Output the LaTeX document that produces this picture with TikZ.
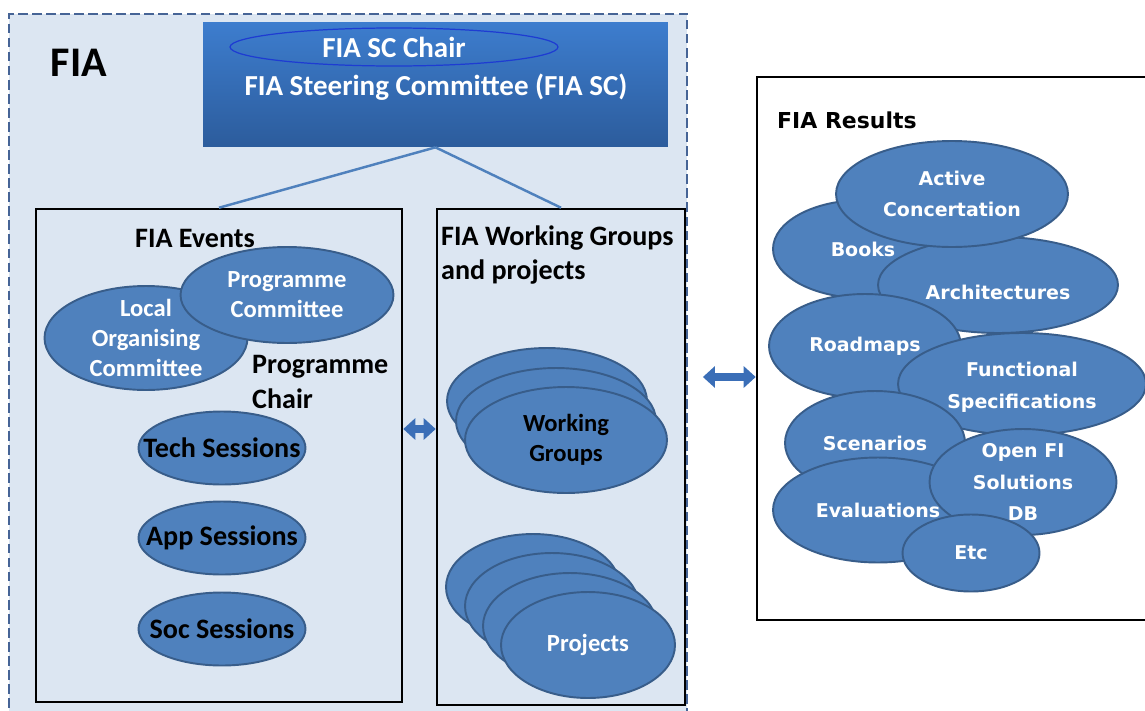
\documentclass[tikz,border=0pt]{standalone}
\usepackage{fontspec}
\setmainfont{Carlito}
\newfontfamily\resfont{DejaVu Sans}
\usetikzlibrary{shapes.geometric,arrows.meta}
\definecolor{fiabg}{RGB}{220,230,242}
\definecolor{fiadash}{RGB}{70,100,150}
\definecolor{bubblefill}{RGB}{79,129,189}
\definecolor{bubbleline}{RGB}{56,93,138}
\definecolor{sctop}{RGB}{61,125,206}
\definecolor{scbot}{RGB}{44,92,156}
\definecolor{chairline}{RGB}{30,60,210}
\definecolor{arrowblue}{RGB}{58,110,183}

\begin{document}
\begin{tikzpicture}[x=0.02cm, y=-0.02cm,
  bubble/.style={shape=ellipse, draw=bubbleline, fill=bubblefill, line width=1.1pt, inner sep=0pt},
  wtext/.style={text=white, font=\fontsize{14}{17}\selectfont\bfseries, align=center},
  btext/.style={text=black, font=\fontsize{14}{17}\selectfont\bfseries, align=center},
  stext/.style={text=black, font=\fontsize{16}{19}\selectfont\bfseries, align=center},
  sctext/.style={text=white, font=\fontsize{16.5}{19}\selectfont\bfseries, align=center},
  rtext/.style={text=white, font=\resfont\fontsize{10.8}{18}\selectfont\bfseries, align=center},
  rhead/.style={text=black, font=\resfont\fontsize{12.5}{15}\selectfont\bfseries},
  headtext/.style={text=black, font=\fontsize{16}{19.5}\selectfont\bfseries, align=left},
  panel/.style={shape=rectangle, draw=black, line width=1.5pt, inner sep=0pt},
  link/.style={draw=bubblefill, line width=1.4pt},
  fatarrow/.style={draw=arrowblue, line width=0.16cm, {Triangle[width=0.42cm,length=0.24cm]}-{Triangle[width=0.42cm,length=0.24cm]}}]
\useasboundingbox (0,0) rectangle (1145,710);

% FIA region
\node[shape=rectangle, draw=fiadash, fill=fiabg, dash pattern=on 5.5pt off 2.5pt, line width=1.1pt, minimum width=13.56cm, minimum height=14.02cm, inner sep=0pt] (fia) at (348,364.5) {};
\node[font=\fontsize{24}{28}\selectfont\bfseries] (fialabel) at (79,63) {FIA};

% steering committee
\node[shape=rectangle, top color=sctop, bottom color=scbot, draw=none, minimum width=9.3cm, minimum height=2.5cm, inner sep=0pt] (sc) at (435.5,84.5) {};
\node[shape=ellipse, draw=chairline, line width=0.7pt, minimum width=6.56cm, minimum height=0.76cm, inner sep=0pt, label={[sctext]center:FIA SC Chair}] (chair) at (394,47) {};
\node[sctext] (scname) at (436,87) {FIA Steering Committee (FIA SC)};

% panels
\node[panel, minimum width=7.32cm, minimum height=9.86cm] (events) at (219,455.5) {};
\node[panel, minimum width=4.96cm, minimum height=9.92cm] (wg) at (561,457) {};
\node[panel, fill=white, minimum width=7.86cm, minimum height=10.86cm] (results) at (953.5,348.5) {};
\draw[link] (sc.south) -- (events.north);
\draw[link] (sc.south) -- (wg.north);

% events
\node[headtext] (evtitle) at (195,238) {FIA Events};
\node[bubble, minimum width=4.06cm, minimum height=2.08cm, label={[wtext]center:Local\\Organising\\Committee}] (loc) at (146,338) {};
\node[bubble, minimum width=4.26cm, minimum height=1.92cm, label={[wtext]center:Programme\\Committee}] (pc) at (287,295) {};
\node[headtext, anchor=west] (pchair) at (246,382) {Programme\\Chair};
\node[bubble, minimum width=3.34cm, minimum height=1.46cm, label={[stext]center:Tech Sessions}] (tech) at (222,448) {};
\node[bubble, minimum width=3.34cm, minimum height=1.46cm, label={[stext]center:App Sessions}] (app) at (222,538) {};
\node[bubble, minimum width=3.34cm, minimum height=1.46cm, label={[stext]center:Soc Sessions}] (soc) at (222,629) {};
\draw[fatarrow] (events.east |- 0,429) -- (wg.west |- 0,429);

% working groups and projects
\node[headtext, anchor=west] (wgtitle) at (435,255) {FIA Working Groups\\and projects};
\node[bubble, minimum width=4cm, minimum height=2.12cm] (wg1) at (547,401) {};
\node[bubble, minimum width=4cm, minimum height=2.12cm] (wg2) at (556,421) {};
\node[bubble, minimum width=4.04cm, minimum height=2.12cm, label={[btext]center:Working\\Groups}] (wg3) at (566,440) {};
\node[bubble, minimum width=3.48cm, minimum height=2.12cm] (pr1) at (533,587) {};
\node[bubble, minimum width=3.48cm, minimum height=2.12cm] (pr2) at (552,606) {};
\node[bubble, minimum width=3.48cm, minimum height=2.12cm] (pr3) at (570,626) {};
\node[bubble, minimum width=3.48cm, minimum height=2.12cm, label={[wtext]center:Projects}] (pr4) at (588,645) {};
\draw[fatarrow, shorten <=0.3cm] (fia.east |- 0,377) -- (results.west |- 0,377);

% results
\node[rhead, anchor=west] (restitle) at (771,120) {FIA Results};
\node[bubble, minimum width=3.6cm, minimum height=1.96cm, label={[rtext]center:Books}] (books) at (863,249) {};
\node[bubble, minimum width=4.8cm, minimum height=1.92cm, label={[rtext, yshift=-4pt]center:Architectures}] (arch) at (998,285) {};
\node[bubble, minimum width=4.64cm, minimum height=2.12cm, label={[rtext]center:Active\\Concertation}] (active) at (952,194) {};
\node[bubble, minimum width=3.84cm, minimum height=2.08cm, label={[rtext]center:Roadmaps}] (roadmaps) at (865,346) {};
\node[bubble, minimum width=4.96cm, minimum height=2.04cm, label={[rtext, yshift=-2pt]center:Functional\\Specifications}] (func) at (1022,384) {};
\node[bubble, minimum width=3.6cm, minimum height=2.08cm, label={[rtext]center:Scenarios}] (scen) at (875,443) {};
\node[bubble, minimum width=4.2cm, minimum height=2.1cm] (eval) at (878,510) {};
\node[bubble, minimum width=3.74cm, minimum height=2.12cm, label={[rtext]center:Open FI\\Solutions\\DB}] (openfi) at (1023,482) {};
\node[rtext] (evaltext) at (eval) {Evaluations};
\node[bubble, minimum width=2.74cm, minimum height=1.54cm, label={[rtext]center:Etc}] (etc) at (971,553) {};
\end{tikzpicture}
\end{document}
